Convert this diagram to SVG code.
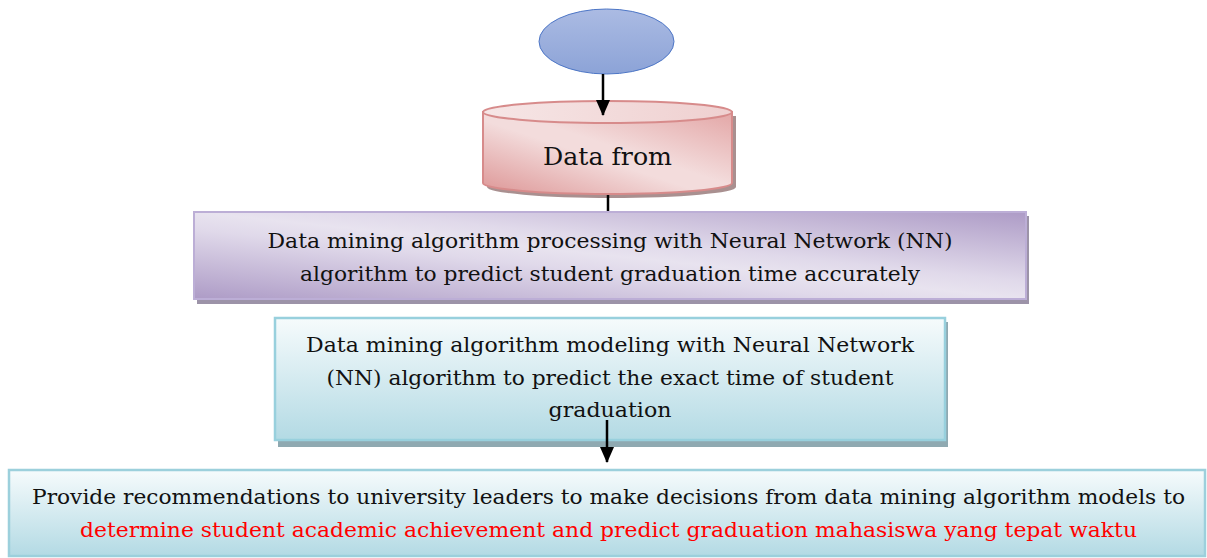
<svg xmlns="http://www.w3.org/2000/svg" width="1207" height="558" viewBox="0 0 1207 558">
<defs>
<linearGradient id="gBlue" x1="0" y1="0" x2="0" y2="1">
<stop offset="0" stop-color="#abbbe3"/>
<stop offset="1" stop-color="#8ca3d7"/>
</linearGradient>
<linearGradient id="gPink" x1="0" y1="1" x2="1" y2="0">
<stop offset="0" stop-color="#dd9696"/>
<stop offset="0.45" stop-color="#f3dcdc"/>
<stop offset="0.55" stop-color="#f3dcdc"/>
<stop offset="1" stop-color="#e3a6a6"/>
</linearGradient>
<linearGradient id="gPinkTop" x1="0" y1="0" x2="1" y2="0">
<stop offset="0" stop-color="#f6e6e6"/>
<stop offset="1" stop-color="#efd0d0"/>
</linearGradient>
<linearGradient id="gPurple" x1="0" y1="1" x2="1" y2="0">
<stop offset="0" stop-color="#ad9bc6"/>
<stop offset="0.4" stop-color="#e0d9ea"/>
<stop offset="0.5" stop-color="#e8e3ef"/>
<stop offset="0.6" stop-color="#e0d9ea"/>
<stop offset="1" stop-color="#ad9bc6"/>
</linearGradient>
<linearGradient id="gCyan" x1="0" y1="0" x2="0" y2="1">
<stop offset="0" stop-color="#f6fbfc"/>
<stop offset="1" stop-color="#b3dae4"/>
</linearGradient>
<marker id="ah" viewBox="0 0 16 14" refX="15" refY="7" markerWidth="16" markerHeight="14" orient="auto" markerUnits="userSpaceOnUse">
<path d="M0,0 L16,7 L0,14 z" fill="#000"/>
</marker>
<style>
.t{font-family:"DejaVu Serif","Liberation Serif",serif;font-size:20.5px;fill:#111;text-anchor:middle}
.red{fill:#ff0000}
.conn{stroke:#000;stroke-width:2.5;fill:none}
</style>
</defs>

<g id="start">
<ellipse cx="606.5" cy="41.5" rx="67.5" ry="32.5" fill="url(#gBlue)" stroke="#4d76c6" stroke-width="1"/>
</g>

<g id="data-source">
<path d="M487,116 L487,187 A124.5,11 0 0 0 736,187 L736,116 Z" fill="#a99090"/>
<path d="M483,112 L483,183 A124.5,11 0 0 0 732,183 L732,112 Z" fill="url(#gPink)" stroke="#d78b8b" stroke-width="2"/>
<ellipse cx="607.5" cy="112" rx="124.5" ry="11" fill="url(#gPinkTop)" stroke="#d78b8b" stroke-width="2"/>
<text class="t" x="607.5" y="165" style="font-size:25px" textLength="129" lengthAdjust="spacingAndGlyphs">Data from</text>
</g>

<g id="processing">
<rect x="197" y="216" width="832" height="88" fill="#9c93a8"/>
<rect x="194" y="212" width="832" height="87" fill="url(#gPurple)" stroke="#bcaed6" stroke-width="2"/>
<text class="t" x="610" y="248" textLength="685" lengthAdjust="spacingAndGlyphs">Data mining algorithm processing with Neural Network (NN)</text>
<text class="t" x="610" y="281" textLength="620" lengthAdjust="spacingAndGlyphs">algorithm to predict student graduation time accurately</text>
</g>

<g id="modeling">
<rect x="278" y="322" width="670" height="125" fill="#8fa9b1"/>
<rect x="275" y="318" width="670" height="122" fill="url(#gCyan)" stroke="#98d0dd" stroke-width="2.5"/>
<text class="t" x="610" y="352" textLength="608" lengthAdjust="spacingAndGlyphs">Data mining algorithm modeling with Neural Network</text>
<text class="t" x="610" y="385" textLength="567" lengthAdjust="spacingAndGlyphs">(NN) algorithm to predict the exact time of student</text>
<text class="t" x="610" y="417" textLength="123" lengthAdjust="spacingAndGlyphs">graduation</text>
</g>

<g id="recommendation">
<rect x="9" y="470" width="1196" height="86" fill="url(#gCyan)" stroke="#9cd0dc" stroke-width="2.5"/>
<text class="t" x="608.5" y="504" textLength="1153" lengthAdjust="spacingAndGlyphs">Provide recommendations to university leaders to make decisions from data mining algorithm models to</text>
<text class="t red" x="608.5" y="537" textLength="1057" lengthAdjust="spacingAndGlyphs">determine student academic achievement and predict graduation mahasiswa yang tepat waktu</text>
</g>

<g id="connectors">
<line class="conn" x1="603" y1="74" x2="603" y2="115" marker-end="url(#ah)"/>
<line class="conn" x1="608" y1="195" x2="608" y2="211"/>
<line class="conn" x1="607" y1="420" x2="607" y2="462" marker-end="url(#ah)"/>
</g>
</svg>
